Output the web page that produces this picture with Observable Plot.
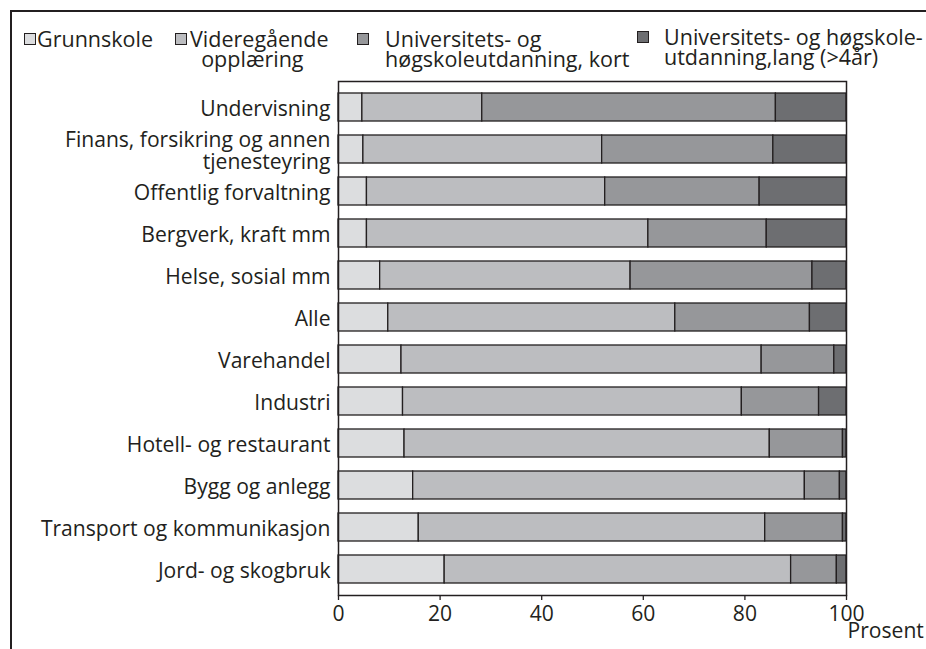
<!DOCTYPE html>
<html>
<head>
<meta charset="utf-8">
<script src="https://cdn.jsdelivr.net/npm/d3@7"></script>
<script src="https://cdn.jsdelivr.net/npm/@observablehq/plot@0.6"></script>
<style>
  body { margin: 0; background: #fff; font-family: "Open Sans", sans-serif; }
  #wrap { position: relative; width: 926px; height: 649px; overflow: hidden; }
  #frame { position: absolute; left: 10px; top: 10px; width: 960px; height: 700px;
           border-left: 2.5px solid #231f20; border-top: 2.5px solid #231f20; }
  #chart { position: absolute; left: 0; top: 0; }
  .sw { position: absolute; width: 10px; height: 10px; border: 1px solid #231f20; }
  .lt { position: absolute; line-height: 20px; color: #231f20; white-space: pre; }
</style>
</head>
<body>
<div id="wrap">
  <div id="frame"></div>
  <div id="chart"></div>
  <div id="legend"></div>
</div>
<script>
// ---- data ----
const categories = [
  "Undervisning",
  "Finans, forsikring og annen\ntjenesteyring",
  "Offentlig forvaltning",
  "Bergverk, kraft mm",
  "Helse, sosial mm",
  "Alle",
  "Varehandel",
  "Industri",
  "Hotell- og restaurant",
  "Bygg og anlegg",
  "Transport og kommunikasjon",
  "Jord- og skogbruk"
];
const seriesNames = [
  "Grunnskole",
  "Videregående opplæring",
  "Universitets- og høgskoleutdanning, kort",
  "Universitets- og høgskoleutdanning,lang (>4år)"
];
const legendLines = [
  ["Grunnskole"],
  ["Videregående", "  opplæring"],
  ["Universitets- og", "høgskoleutdanning, kort"],
  ["Universitets- og høgskole-", "utdanning,lang (>4år)"]
];
const grunnskole    = [4.7, 4.9, 5.6, 5.6, 8.2, 9.8, 12.4, 12.7, 13.0, 14.7, 15.8, 20.9];
const videregaende  = [23.6, 47.0, 46.9, 55.4, 49.3, 56.5, 70.9, 66.7, 71.9, 77.1, 68.2, 68.2];
const uniKort       = [57.8, 33.7, 30.4, 23.3, 35.8, 26.5, 14.3, 15.2, 14.4, 6.9, 15.3, 9.0];
const uniLang       = [13.9, 14.4, 17.1, 15.7, 6.7, 7.2, 2.4, 5.4, 0.7, 1.3, 0.7, 1.9];
const xTicks = [0, 20, 40, 60, 80, 100];
const axisTitle = "Prosent";
const colors = ["#dcdddf", "#bcbdc0", "#96979a", "#6d6e71"];

// ---- font fitting to the reference text widths ----
const FONT = "'Open Sans', sans-serif";
const ctx = document.createElement("canvas").getContext("2d");
function w(t, fs) { ctx.font = `${fs}px ${FONT}`; return ctx.measureText(t).width; }
const axisFs = Math.min(22, Math.max(18, 20 * (290 + 130) / (w("Transport og kommunikasjon", 20) + w("Undervisning", 20))));
let legFs = 20 * (124 + 152 + 247 + 258) /
  (w("Grunnskole", 20) + w("Videregående", 20) + w("høgskoleutdanning, kort", 20) + w("Universitets- og høgskole-", 20));
legFs = Math.min(legFs, 20 * 248 / w("høgskoleutdanning, kort", 20), 20 * 259 / w("Universitets- og høgskole-", 20));
legFs = Math.min(23, Math.max(18, legFs));

// ---- long table ----
const seriesValues = [grunnskole, videregaende, uniKort, uniLang];
const rows = [];
categories.forEach((c, i) => {
  seriesNames.forEach((s, j) => rows.push({cat: c, series: s, value: seriesValues[j][i]}));
});

const ink = "#231f20";
const chart = Plot.plot({
  width: 926,
  height: 649,
  marginLeft: 338,
  marginRight: 80,
  marginTop: 81,
  marginBottom: 54,
  style: {fontFamily: FONT, fontSize: axisFs + "px", color: ink, background: "transparent", overflow: "visible"},
  x: {domain: [0, 100], label: null},
  y: {domain: categories, paddingInner: 0.335, paddingOuter: 0.17, label: null},
  color: {domain: seriesNames, range: colors},
  marks: [
    Plot.barX(rows, {y: "cat", x: "value", fill: "series", stroke: ink, strokeWidth: 1.3}),
    Plot.frame({stroke: ink, strokeWidth: 1.5}),
    Plot.axisX({ticks: xTicks, tickSize: 5, tickPadding: 6, label: null, fontSize: axisFs, stroke: ink, strokeWidth: 1.3}),
    Plot.axisY({tickSize: 0, tickPadding: 8, label: null, fontSize: axisFs, lineHeight: 1.05, dy: 1.5}),
    Plot.text([axisTitle], {frameAnchor: "bottom-right", textAnchor: "start", dx: 1, dy: 42, fontSize: axisFs, fill: ink})
  ]
});
document.getElementById("chart").appendChild(chart);

// ---- legend (HTML) ----
const legendPos = [
  {sx: 24, sy: 33, tx: 37, base: 47},
  {sx: 175, sy: 33, tx: 190, base: 47},
  {sx: 357, sy: 33, tx: 385, base: 47},
  {sx: 637, sy: 31, tx: 664, base: 45}
];
const leg = document.getElementById("legend");
// baseline offset of Open Sans inside a 20px line box
const baseOff = 10 + (1.069 - 0.293) * legFs / 2;
legendPos.forEach((p, i) => {
  const sw = document.createElement("div");
  sw.className = "sw";
  sw.style.left = p.sx + "px";
  sw.style.top = p.sy + "px";
  sw.style.background = colors[i];
  leg.appendChild(sw);
  const d = document.createElement("div");
  d.className = "lt";
  d.style.fontSize = legFs + "px";
  d.textContent = legendLines[i].join("\n");
  d.style.left = p.tx + "px";
  d.style.top = (p.base - baseOff) + "px";
  leg.appendChild(d);
});
</script>
</body>
</html>
